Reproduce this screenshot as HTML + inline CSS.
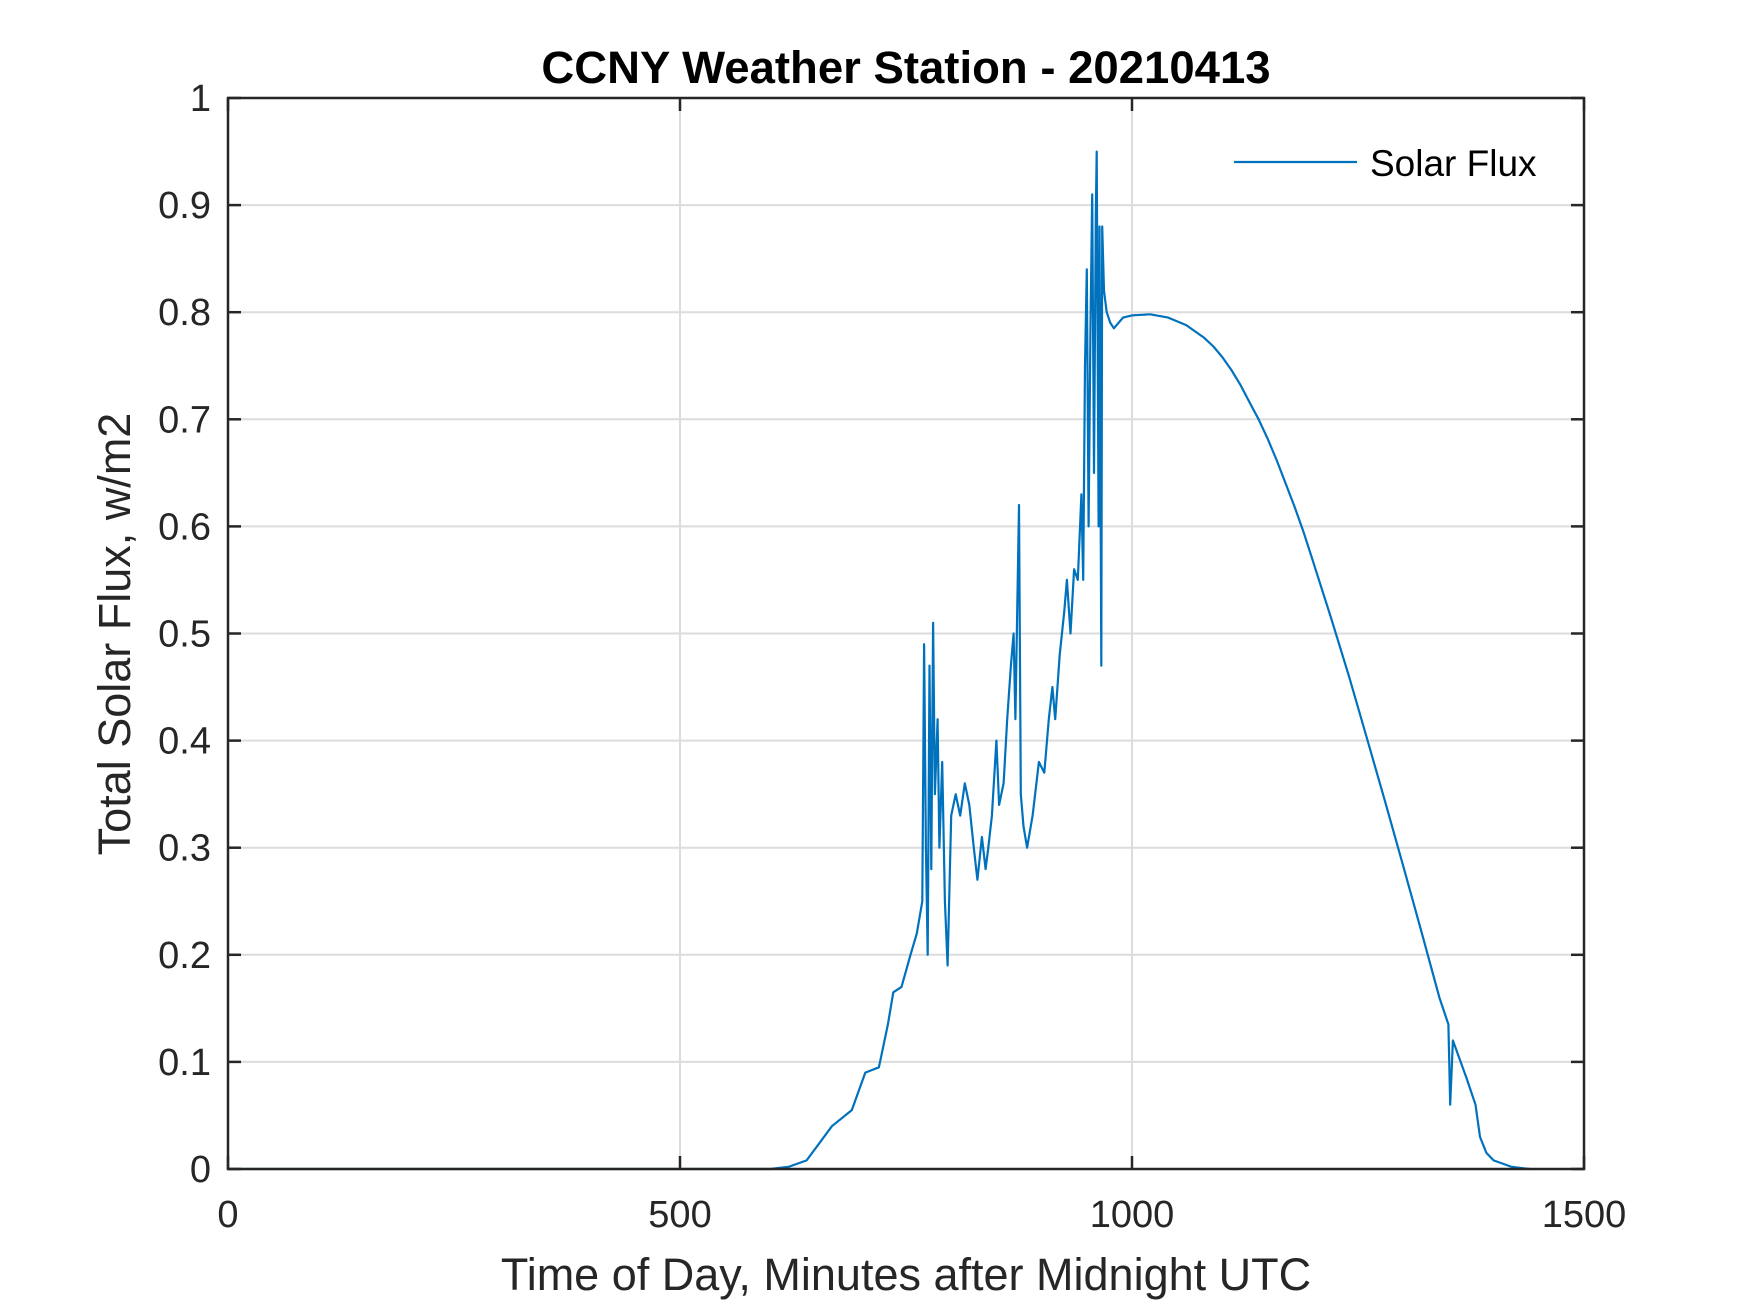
<!DOCTYPE html>
<html><head><meta charset="utf-8"><style>
html,body{margin:0;padding:0;background:#fff;}
svg{display:block;font-family:"Liberation Sans",Arial,sans-serif;}
</style></head><body>
<svg id="chart" width="1750" height="1313" viewBox="0 0 1750 1313" xmlns="http://www.w3.org/2000/svg">
<rect width="1750" height="1313" fill="#fff"/>
<g id="grid"></g>
<g id="series"></g>
<g id="axes"></g>
<text x="906" y="83" text-anchor="middle" font-size="45.5" font-weight="bold" fill="#000">CCNY Weather Station - 20210413</text>
<text x="906" y="1290" text-anchor="middle" font-size="45" fill="#262626">Time of Day, Minutes after Midnight UTC</text>
<text transform="translate(130,634) rotate(-90)" text-anchor="middle" font-size="45" fill="#262626">Total Solar Flux, w/m2</text>
<g>
<line x1="1234" y1="162" x2="1357" y2="162" stroke="#0072BD" stroke-width="2.2"/>
<text x="1370" y="176" font-size="37" fill="#000">Solar Flux</text>
</g>
</svg>
<script>
const xTicks = [0, 500, 1000, 1500];
const yTicks = [0, 0.1, 0.2, 0.3, 0.4, 0.5, 0.6, 0.7, 0.8, 0.9, 1];
const yTickLabels = ["0","0.1","0.2","0.3","0.4","0.5","0.6","0.7","0.8","0.9","1"];
const minutes = [0,600,620,640,655,668,690,705,720,730,736,745,755,762,768,770,772,774,776,778,780,782,785,787,790,793,796,800,805,810,815,820,825,829,834,838,841,845,850,853,858,862,866,869,871,873,875,877,880,884,890,897,903,908,912,915,920,925,928,932,936,940,944,946,948,950,952,954,956,958,960,961,963,964,966,967,969,972,976,980,990,1000,1020,1040,1060,1080,1090,1100,1110,1120,1130,1140,1150,1160,1170,1180,1190,1200,1220,1240,1260,1280,1300,1320,1340,1350,1352,1355,1370,1380,1385,1392,1400,1420,1440];
const flux = [0,0,0.002,0.008,0.025,0.04,0.055,0.09,0.095,0.135,0.165,0.17,0.2,0.22,0.25,0.49,0.3,0.2,0.47,0.28,0.51,0.35,0.42,0.3,0.38,0.25,0.19,0.33,0.35,0.33,0.36,0.34,0.3,0.27,0.31,0.28,0.3,0.33,0.4,0.34,0.36,0.42,0.47,0.5,0.42,0.52,0.62,0.35,0.32,0.3,0.33,0.38,0.37,0.42,0.45,0.42,0.48,0.52,0.55,0.5,0.56,0.55,0.63,0.55,0.75,0.84,0.6,0.78,0.91,0.65,0.89,0.95,0.6,0.88,0.47,0.88,0.82,0.8,0.79,0.785,0.795,0.797,0.798,0.795,0.788,0.776,0.768,0.758,0.746,0.732,0.716,0.7,0.682,0.662,0.64,0.618,0.594,0.568,0.515,0.46,0.402,0.343,0.283,0.222,0.16,0.135,0.06,0.12,0.085,0.06,0.03,0.015,0.008,0.002,0];
const L=228,R=1584,T=98,B=1169;
const sx=v=>L+(v-0)/1500*(R-L);
const sy=v=>B-(v-0)/1*(B-T);
const NS="http://www.w3.org/2000/svg";
function mk(tag,attrs,parent){const e=document.createElementNS(NS,tag);for(const k in attrs)e.setAttribute(k,attrs[k]);parent.appendChild(e);return e;}
const grid=document.getElementById('grid'),axes=document.getElementById('axes'),series=document.getElementById('series');
xTicks.forEach(t=>{if(t>0&&t<1500){const g=mk('line',{x1:sx(t),x2:sx(t),y1:T,y2:B,stroke:'#dcdcdc','stroke-width':2},grid);

}});
yTicks.forEach(t=>{if(t>0&&t<1){const g=mk('line',{x1:L,x2:R,y1:sy(t),y2:sy(t),stroke:'#dcdcdc','stroke-width':2},grid);

}});
let d='';minutes.forEach((m,i)=>{d+=(i?'L':'M')+sx(m).toFixed(1)+' '+sy(flux[i]).toFixed(1);});
const p=mk('path',{d:d,fill:'none',stroke:'#0072BD','stroke-width':2.2,'stroke-linejoin':'round'},series);


const box=mk('rect',{x:L,y:T,width:R-L,height:B-T,fill:'none',stroke:'#262626','stroke-width':2.5},axes);


xTicks.forEach(t=>{
mk('line',{x1:sx(t),x2:sx(t),y1:B,y2:B-13,stroke:'#262626','stroke-width':2.5},axes);
mk('line',{x1:sx(t),x2:sx(t),y1:T,y2:T+13,stroke:'#262626','stroke-width':2.5},axes);
const tx=mk('text',{x:sx(t),y:1227,'text-anchor':'middle','font-size':38,fill:'#262626'},axes);tx.textContent=t;

});
yTicks.forEach((t,i)=>{
mk('line',{x1:L,x2:L+13,y1:sy(t),y2:sy(t),stroke:'#262626','stroke-width':2.5},axes);
mk('line',{x1:R,x2:R-13,y1:sy(t),y2:sy(t),stroke:'#262626','stroke-width':2.5},axes);
const tx=mk('text',{x:211,y:sy(t)+13,'text-anchor':'end','font-size':38,fill:'#262626'},axes);tx.textContent=yTickLabels[i];

});
</script>
</body></html>
